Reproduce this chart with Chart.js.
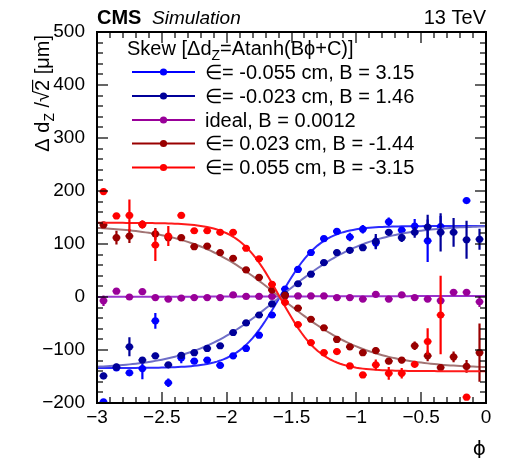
<!DOCTYPE html>
<html>
<head>
<meta charset="utf-8">
<script src="https://cdn.jsdelivr.net/npm/chart.js@4.4.0/dist/chart.umd.min.js"></script>
<style>
  html, body { margin: 0; padding: 0; background: #fff; }
  #wrap { width: 510px; height: 458px; }
</style>
</head>
<body>
<div id="wrap"><canvas id="skewChart" width="510" height="458"></canvas></div>
<script>
// ===== DATA =====
const phiBins = [-2.95, -2.85, -2.75, -2.65, -2.55, -2.45, -2.35, -2.25, -2.15, -2.05,
                 -1.95, -1.85, -1.75, -1.65, -1.55, -1.45, -1.35, -1.25, -1.15, -1.05,
                 -0.95, -0.85, -0.75, -0.65, -0.55, -0.45, -0.35, -0.25, -0.15, -0.05];

// eps = -0.055 cm
const blueVals = [-198, -134, -143, -135, -45, -162, -115, -121, -119, -129,
                  -111, -97, -72, -34, 15, 52, 84, 110, 124, 113,
                  128, 102, 142, 126, 134, 106, 133, null, 182, null];
const blueErrs = [4, 5, 5, 20, 15, 8, 10, 5, 5, 5,
                  5, 5, 5, 5, 5, 5, 5, 5, 5, 8,
                  8, 12, 8, 6, 13, 40, 20, 5, 4, 5];
// eps = -0.023 cm
const navyVals = [-149, -132, -94, -119, -111, -128, -110, -105, -97, -92,
                  -67, -49, -34, -13, 5, 25, 43, 65, 84, 88,
                  93, 105, 122, 112, 122, 132, 122, 122, 108, 109];
const navyErrs = [6, 6, 18, 5, 6, 5, 6, 5, 5, 5,
                  5, 5, 5, 5, 5, 5, 5, 5, 5, 6,
                  6, 14, 6, 8, 10, 23, 36, 27, 36, 20];
// ideal
const idealVals = [-7, 11, 0, 10, -1, -4, -2, -1, -1, -1,
                   4, 1, 1, 1, 2, 2, 2, 2, -1, -1,
                   -4, 5, -4, 4, -1, -4, -7, 9, 9, -9];
const idealErrs = [10, 5, 4, 4, 4, 4, 4, 4, 4, 4,
                   4, 4, 4, 4, 4, 4, 4, 4, 4, 4,
                   4, 4, 4, 4, 4, 4, 4, 6, 6, 10];
// eps = 0.023 cm
const darkRedVals = [136, 112, 115, 137, 119, 112, 112, 95, 96, 84,
                     73, 51, 37, 13, 3, -21, -42, -58, -80, -94,
                     -105, -101, -121, -119, -92, -111, -133, -113, -131, -105];
const darkRedErrs = [5, 13, 13, 5, 11, 5, 5, 5, 5, 5,
                     5, 5, 5, 5, 5, 5, 5, 5, 5, 5,
                     5, 6, 6, 6, 8, 10, 6, 10, 12, 55];
// eps = 0.055 cm
const redVals = [199, 153, 154, 137, 98, 115, 154, 125, 125, 122,
                 122, 92, 72, 24, -10, -52, -86, -105, -103, -130,
                 -147, -128, -144, -144, -127, -84, -34, null, -189, null];
const redErrs = [4, 5, 30, 8, 30, 19, 5, 5, 5, 5,
                 5, 5, 5, 5, 5, 5, 5, 5, 6, 5,
                 5, 10, 12, 10, 6, 25, 74, 5, 4, 5];

const phiErr = 0.03;

const seriesLabels = ['\u2208= -0.055 cm, B = 3.15', '\u2208= -0.023 cm, B = 1.46',
                      'ideal, B = 0.0012', '\u2208= 0.023 cm, B = -1.44', '\u2208= 0.055 cm, B = -3.15'];
const seriesColors = ['#0000ff', '#000099', '#990099', '#990000', '#ff0000'];
const fitColors = ['#2a2aff', '#6e6ec8', '#9a33cc', '#a27474', '#ff1a1a'];

// fit: dz = A * tanh(B*phi + C)
const fitA = [134, 136, 500, 135, 140];
const fitB = [3.15, 1.46, 0.0012, -1.44, -3.15];
const fitC = [5.01, 2.32, 0.004, -2.29, -5.01];

const allVals = [blueVals, navyVals, idealVals, darkRedVals, redVals];
const allErrs = [blueErrs, navyErrs, idealErrs, darkRedErrs, redErrs];

const FONT = '"Liberation Sans", Arial, Helvetica, sans-serif';

// ===== DATASETS =====
const datasets = [];
allVals.forEach((vals, s) => {
    const pts = [];
    const errs = [];
    vals.forEach((v, i) => {
        if (v === null) return;
        pts.push({ x: phiBins[i], y: v });
        errs.push(allErrs[s][i]);
    });
    datasets.push({
        type: 'scatter',
        data: pts,
        yErr: errs,
        showLine: false,
        pointRadius: 3.6,
        pointHoverRadius: 3.6,
        pointBackgroundColor: seriesColors[s],
        pointBorderColor: seriesColors[s],
        pointBorderWidth: 0,
        order: 10 - 2 * s
    });

    const curve = [];
    for (let k = 0; k <= 120; k++) {
        const phi = -3 + k * 0.025;
        curve.push({ x: phi, y: fitA[s] * Math.tanh(fitB[s] * phi + fitC[s]) });
    }
    datasets.push({
        type: 'line',
        data: curve,
        borderColor: fitColors[s],
        borderWidth: 2,
        pointRadius: 0,
        tension: 0,
        fill: false,
        order: 11 - 2 * s
    });
});

// ===== PLUGINS =====
const errorBars = {
    id: 'errorBars',
    beforeDatasetDraw(chart, args) {
        const ds = chart.data.datasets[args.index];
        if (!ds.yErr) return;
        const { ctx, chartArea: a, scales: { x, y } } = chart;
        ctx.save();
        ctx.beginPath();
        ctx.rect(a.left, a.top, a.width, a.height);
        ctx.clip();
        ctx.strokeStyle = ds.pointBackgroundColor;
        ctx.lineWidth = 2.2;
        ds.data.forEach((p, i) => {
            const px = x.getPixelForValue(p.x);
            const py = y.getPixelForValue(p.y);
            const e = ds.yErr[i];
            ctx.beginPath();
            ctx.moveTo(x.getPixelForValue(p.x - phiErr), py);
            ctx.lineTo(x.getPixelForValue(p.x + phiErr), py);
            ctx.moveTo(px, y.getPixelForValue(p.y - e));
            ctx.lineTo(px, y.getPixelForValue(p.y + e));
            ctx.stroke();
        });
        ctx.restore();
    }
};

const rootFrame = {
    id: 'rootFrame',
    afterDatasetsDraw(chart) {
        const { ctx, chartArea: a, scales: { x, y } } = chart;
        const L = Math.round(a.left), R = Math.round(a.right);
        const T = Math.round(a.top), B = Math.round(a.bottom);
        ctx.save();
        ctx.fillStyle = '#000';
        // frame
        ctx.fillRect(L - 1, T - 1, R - L + 2, 2);
        ctx.fillRect(L - 1, B - 1, R - L + 2, 2);
        ctx.fillRect(L - 1, T - 1, 2, B - T + 2);
        ctx.fillRect(R - 1, T - 1, 2, B - T + 2);
        // x ticks, major every 0.5, minor every 0.1
        for (let k = 0; k <= 30; k++) {
            const px = Math.round(x.getPixelForValue(-3 + k * 0.1));
            const len = k % 5 === 0 ? 11 : 6;
            ctx.fillRect(px - 0.6, B - len, 1.2, len);
            ctx.fillRect(px - 0.6, T, 1.2, len);
        }
        // y ticks, major every 100, minor every 20
        for (let k = 0; k <= 35; k++) {
            const py = Math.round(y.getPixelForValue(-200 + k * 20));
            const len = k % 5 === 0 ? 11 : 6;
            ctx.fillRect(L, py - 0.6, len, 1.2);
            ctx.fillRect(R - len, py - 0.6, len, 1.2);
        }
        ctx.restore();
    }
};

function drawRuns(ctx, runs, x0, y0) {
    // runs: [text, size, dy, overline]
    let xx = x0;
    runs.forEach(r => {
        ctx.font = r[1] + 'px ' + FONT;
        ctx.fillText(r[0], xx, y0 + r[2]);
        const w = ctx.measureText(r[0]).width;
        if (r[3]) {
            ctx.save();
            ctx.lineWidth = 1.2;
            ctx.beginPath();
            ctx.moveTo(xx - 1, y0 - r[1] * 0.82);
            ctx.lineTo(xx + w, y0 - r[1] * 0.82);
            ctx.stroke();
            ctx.restore();
        }
        xx += w;
    });
    return xx - x0;
}

function runsWidth(ctx, runs) {
    let w = 0;
    runs.forEach(r => {
        ctx.font = r[1] + 'px ' + FONT;
        w += ctx.measureText(r[0]).width;
    });
    return w;
}

const annotations = {
    id: 'annotations',
    afterDraw(chart) {
        const { ctx, chartArea: a } = chart;
        ctx.save();
        ctx.fillStyle = '#000';
        ctx.strokeStyle = '#000';
        ctx.textBaseline = 'alphabetic';

        // header
        ctx.font = 'bold 20px ' + FONT;
        ctx.fillText('CMS', a.left, 24);
        ctx.font = 'italic 19px ' + FONT;
        ctx.fillText('Simulation', a.left + 55, 24);
        ctx.font = '20px ' + FONT;
        ctx.textAlign = 'right';
        ctx.fillText('13 TeV', a.right, 24);
        ctx.font = '20px "DejaVu Sans", ' + FONT;
        ctx.fillText('\u03d5', a.right, 455);
        ctx.textAlign = 'left';

        // y title (rotated)
        const yRuns = [['\u0394 d', 20, 0], ['Z', 14, 5], [' /', 20, 0], ['\u221a', 20, 0],
                       ['2', 20, 0, true], [' [\u03bcm]', 20, 0]];
        const w = runsWidth(ctx, yRuns);
        ctx.save();
        ctx.translate(49, a.top + 3);
        ctx.rotate(-Math.PI / 2);
        drawRuns(ctx, yRuns, -w, 0);
        ctx.restore();

        // legend
        drawRuns(ctx, [['Skew [\u0394d', 20, 0], ['Z', 14, 5], ['=Atanh(B\u03d5+C)]', 20, 0]], 127, 55);
        const rows = [72, 96, 120, 143.5, 167.5];
        seriesLabels.forEach((lab, s) => {
            const ry = rows[s];
            ctx.strokeStyle = seriesColors[s];
            ctx.lineWidth = 2;
            ctx.beginPath();
            ctx.moveTo(132, ry); ctx.lineTo(195, ry);
            ctx.stroke();
            ctx.fillStyle = seriesColors[s];
            ctx.beginPath();
            ctx.arc(163.5, ry, 3.6, 0, Math.PI * 2);
            ctx.fill();
            ctx.fillStyle = '#000';
            ctx.font = '20px ' + FONT;
            ctx.textBaseline = 'middle';
            ctx.fillText(lab, 205, ry + 1);
            ctx.textBaseline = 'alphabetic';
        });
        ctx.restore();
    }
};

// ===== CHART =====
const fmtMinus = v => (v < 0 ? '\u2212' + String(-v) : String(v));

new Chart(document.getElementById('skewChart'), {
    data: { datasets: datasets },
    plugins: [errorBars, rootFrame, annotations],
    options: {
        responsive: false,
        animation: false,
        layout: { padding: { left: 7, right: 24, top: 32, bottom: 25 } },
        plugins: { legend: { display: false }, tooltip: { enabled: false } },
        scales: {
            x: {
                type: 'linear',
                min: -3,
                max: 0,
                grid: { display: false },
                border: { display: false },
                ticks: {
                    stepSize: 0.5,
                    color: '#000',
                    padding: -5,
                    maxRotation: 0,
                    autoSkip: false,
                    font: { family: FONT, size: 19 },
                    callback: fmtMinus
                },
                afterFit(scale) {
                    scale.height = 30;
                    scale.paddingLeft = 0;
                    scale.paddingRight = 0;
                }
            },
            y: {
                type: 'linear',
                min: -200,
                max: 500,
                grid: { display: false },
                border: { display: false },
                ticks: {
                    stepSize: 100,
                    color: '#000',
                    padding: 4,
                    font: { family: FONT, size: 19 },
                    callback: fmtMinus
                },
                afterFit(scale) {
                    scale.width = 90;
                    scale.paddingTop = 0;
                    scale.paddingBottom = 0;
                }
            }
        }
    }
});
</script>
</body>
</html>
